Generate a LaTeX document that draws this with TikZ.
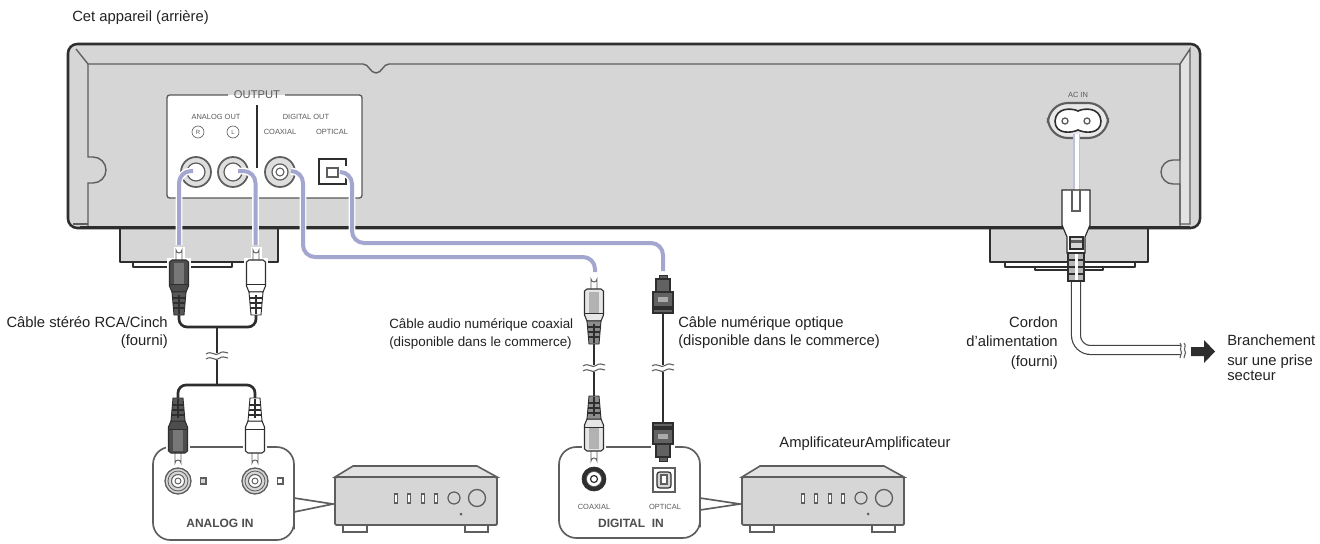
\documentclass[tikz,border=0pt]{standalone}
\usepackage{fontspec}
\setmainfont{Liberation Sans}
\definecolor{devgray}{HTML}{D6D6D6}
\definecolor{lineblk}{HTML}{2E2E2E}
\definecolor{midline}{HTML}{5E5E5E}
\definecolor{lav}{HTML}{A3A6CE}
\definecolor{txt}{HTML}{222222}
\definecolor{smalltxt}{HTML}{5A5A5A}
\tikzset{
 x=0.75pt,y=-0.75pt,
 label/.style={font=\fontsize{11.1pt}{13.5pt}\selectfont,text=txt,inner sep=0pt,align=left},
 tiny/.style={font=\fontsize{5.6pt}{6pt}\selectfont,text=smalltxt,inner sep=0pt},
 boxtitle/.style={font=\bfseries\fontsize{9pt}{10pt}\selectfont,text=lineblk!85,inner sep=0pt},
 outline/.style={draw=lineblk,line width=1.9pt,line join=round},
 thinline/.style={draw=midline,line width=1.05pt},
 wire/.style={draw=lineblk,line width=2pt,rounded corners=6pt},
 bluewire/.style={line width=3pt,draw=lav,rounded corners=9pt},
 bluehalo/.style={line width=5.2pt,draw=white,rounded corners=9pt},
 panel/.style={draw=lineblk!80,line width=1pt,fill=white},
 balloon/.style={draw=midline,line width=1.25pt,fill=white},
 ampline/.style={draw=midline,line width=1.2pt},
 pics/rca/.style n args={3}{code={
   \fill[white] (-5.5,-1) rectangle (5.5,12);
   \fill[white] (-12,10) rectangle (12,46);
   \draw[midline,fill=white,line width=.7pt] (-3,12) -- (-3,2) arc[start angle=180,end angle=0,radius=3] -- (3,12);
   \draw[lineblk,line width=.8pt,fill=#1] (-9.5,14) -- (-7,12) -- (7,12) -- (9.5,14) -- (9.5,38) -- (7,44) -- (-7,44) -- (-9.5,38) -- cycle;
   \draw[#3,fill=#3,line width=.6pt] (-4.5,15) rectangle (4.5,36);
   \draw[lineblk,line width=.6pt] (-9.5,36) -- (9.5,36);
   \draw[lineblk,line width=.7pt,fill=#2] (-7,44) -- (7,44) -- (5,67) -- (-5,67) -- cycle;
   \foreach \ry in {50,55,60}{\draw[lineblk,line width=1.3pt] (-6,\ry) -- (6,\ry);}
   \draw[lineblk,line width=.8pt] (0,47) -- (0,66);
 }},
 pics/optic/.style n args={2}{code={
   \fill[white] (-12,-1) rectangle (12,39);
   \draw[lineblk,line width=.7pt,fill=midline] (-4,5) -- (-4,0) -- (4,0) -- (4,5);
   \draw[lineblk,line width=.8pt,fill=#1] (-7,4) -- (7,4) -- (7,17) -- (-7,17) -- cycle;
   \draw[lineblk,line width=.8pt,fill=#1] (-10,17) rectangle (10,38);
   \fill[#2] (-5,22) rectangle (5,27);
   \fill[lineblk] (-10,31) rectangle (10,35);
 }},
 pics/breakv/.style={code={
   \fill[white] (-11,-3.5) rectangle (11,3.5);
   \draw[midline,line width=.8pt] (-11,-2) .. controls (-5,-6) and (-2,1) .. (2,-2.5) .. controls (5,-5) and (8,-4) .. (11,-3);
   \draw[midline,line width=.8pt] (-11,3) .. controls (-5,-1) and (-2,6) .. (2,2.5) .. controls (5,0) and (8,1) .. (11,2);
 }},
 pics/amp/.style={code={
   \draw[ampline,fill=devgray!70!white] (0,11) -- (18,0) -- (142,0) -- (162,11) -- cycle;
   \draw[ampline,fill=white] (8,59) rectangle (32,66);
   \draw[ampline,fill=white] (130,59) rectangle (153,66);
   \draw[ampline,fill=devgray,line width=1.4pt,rounded corners=1pt] (0,11) rectangle (162,59);
   \foreach \ax in {61,74,88,101}{\draw[draw=midline,fill=white,line width=.9pt] (\ax-1.8,28) rectangle (\ax+1.8,37);}
   \draw[midline,fill=devgray,line width=.9pt] (119,32) circle[radius=6];
   \draw[midline,fill=devgray,line width=1pt] (142,32) circle[radius=8.5];
   \fill[midline] (126,48) circle[radius=1.5];
 }},
 pics/jack/.style={code={
   \draw[midline,fill=devgray,line width=1pt] (0,0) circle[radius=13];
   \draw[midline,line width=.6pt] (0,0) circle[radius=10];
   \draw[midline,fill=white,line width=.8pt] (0,0) circle[radius=6.5];
   \draw[midline,line width=.7pt] (0,0) circle[radius=3];
 }},
 pics/bigjack/.style={code={
   \draw[midline,fill=devgray!80!white,line width=1.3pt] (0,0) circle[radius=15];
   \draw[midline,line width=.9pt,fill=white] (0,0) circle[radius=9];
 }}
}
\begin{document}
\begin{tikzpicture}
\useasboundingbox (0,0) rectangle (1320,543);
\fill[white] (0,0) rectangle (1320,543);

% feet
\draw[outline,line width=1.2pt,fill=white] (133,262) -- (133,267) -- (232,267) -- (232,262);
\draw[outline,line width=1.2pt,fill=white] (1005,262) -- (1005,267) -- (1135,267) -- (1135,262);
\draw[outline,line width=1.2pt] (1035,267) -- (1035,270) -- (1103,270) -- (1103,267);
\draw[outline,line width=1.3pt,fill=devgray] (120,226) -- (120,262) -- (278,262) -- (278,226);
\draw[outline,line width=1.3pt,fill=devgray] (990,226) -- (990,262) -- (1148,262) -- (1148,226);

% body
\draw[outline,fill=devgray,rounded corners=7pt] (68,44) rectangle (1200,228);
\draw[thinline,fill=devgray!70!white] (1180,64) -- (1190,49) -- (1190,224) -- (1180,224) -- cycle;
\draw[thinline] (76,49) -- (88,64) -- (363,64) .. controls (369,64) and (370,73) .. (376,73) .. controls (382,73) and (383,64) .. (389,64) -- (1180,64);
\draw[thinline] (88,64) -- (88,157) -- (93,157) arc[start angle=-90,end angle=90,radius=13] -- (88,183) -- (88,226);
\draw[thinline] (1180,64) -- (1180,160) -- (1173,160) arc[start angle=-90,end angle=-270,radius=12] -- (1180,184) -- (1180,226);
\draw[thinline] (73,224) -- (88,224);
\draw[lineblk,line width=1.9pt] (80,227) -- (1190,227);

% panel
\path[fill=white,rounded corners=2pt] (167,95) rectangle (362,198);
\draw[panel,fill=none,rounded corners=2pt] (228,95) -- (167,95) -- (167,198) -- (362,198) -- (362,95) -- (285,95);
\node[tiny,font=\fontsize{8.4pt}{9pt}\selectfont] (outputlbl) at (257,95) {OUTPUT};
\draw[lineblk,line width=1pt] (257,105) -- (257,168);
\node[tiny] (aout) at (216,117) {ANALOG OUT};
\node[tiny] (dout) at (306,117) {DIGITAL OUT};
\node[tiny,draw=smalltxt,circle,minimum size=9pt,inner sep=0pt,line width=.5pt,font=\fontsize{4.5pt}{5pt}\selectfont] (rlbl) at (198,132) {R};
\node[tiny,draw=smalltxt,circle,minimum size=9pt,inner sep=0pt,line width=.5pt,font=\fontsize{4.5pt}{5pt}\selectfont] (llbl) at (233,132) {L};
\node[tiny] (coaxlbl) at (280,132) {COAXIAL};
\node[tiny] (optlbl) at (332,132) {OPTICAL};
\pic at (196,172) {bigjack};
\pic at (233,172) {bigjack};
\draw[midline,fill=devgray!80!white,line width=1.3pt] (280,172) circle[radius=15];
\draw[midline,fill=white,line width=.9pt] (280,172) circle[radius=8];
\draw[midline,line width=.8pt] (280,172) circle[radius=4];
\draw[lineblk,line width=1.1pt] (346,166) -- (346,159) -- (319,159) -- (319,184) -- (346,184) -- (346,178);
\draw[midline,fill=white,line width=.9pt] (327,168) rectangle (338,177);

% AC inlet
\node[tiny] (aclbl) at (1078,95) {AC IN};
\draw[draw=midline,fill=devgray!55!white,line width=1.6pt,rounded corners=15pt] (1048,103) rectangle (1108,138);
\draw[draw=lineblk,fill=white,line width=1.2pt] (1078,111)
  .. controls (1072,108) and (1056,107) .. (1055,121)
  .. controls (1055,135) and (1072,133) .. (1078,130)
  .. controls (1084,133) and (1101,135) .. (1101,121)
  .. controls (1100,107) and (1084,108) .. (1078,111) -- cycle;
\draw[midline,line width=1pt] (1065,121) circle[radius=3];
\draw[midline,line width=1pt] (1087,121) circle[radius=3];

% power cord (behind the plug)
\coordinate (acin) at (1076.5,134);
\coordinate (acplug) at (1076.5,192);
\draw[lav!70!white,line width=5.4pt] (acin) -- (acplug);
\draw[white,line width=3pt] (acin) -- (acplug);
\coordinate (cordtop) at (1076,280);
\coordinate (cordbend) at (1076,350);
\coordinate (cordend) at (1181,350);
\draw[midline!70!black,line width=7.6pt,rounded corners=11pt] (cordtop) -- (cordbend) -- (cordend);
\draw[white,line width=5.8pt,rounded corners=11pt] (cordtop) -- (cordbend) -- (cordend);
\fill[white] (1181,342) rectangle (1187,358);
\draw[midline,line width=.8pt] (1180,343) .. controls (1183,346) and (1179,349) .. (1181,351) .. controls (1183,354) and (1179,355) .. (1180,358);
\draw[midline,line width=.8pt] (1184,343) .. controls (1187,346) and (1183,349) .. (1185,351) .. controls (1187,354) and (1183,355) .. (1184,358);
\draw[lineblk,fill=white,line width=.9pt] (1062,190) -- (1090,190) -- (1090,225) -- (1085,237) -- (1085,253) -- (1067,253) -- (1067,237) -- (1062,225) -- cycle;
\draw[midline,line width=.8pt] (1072,190) -- (1072,211) -- (1080,211) -- (1080,190);
\draw[lineblk,line width=.8pt,fill=devgray] (1070,237) rectangle (1083,249);
\fill[midline] (1071,240) rectangle (1082,243);
\draw[lineblk,line width=.8pt,fill=midline!45!white] (1068,253) rectangle (1084,281);
\foreach \ry in {260,267,274}{\draw[lineblk,line width=1.1pt] (1068,\ry) -- (1084,\ry);}
\fill[white] (1074.5,254) rectangle (1077.5,280);
\fill[lineblk] (1191,347) -- (1204,347) -- (1204,340) -- (1215,351.5) -- (1204,363) -- (1204,356) -- (1191,356) -- cycle;

% blue leads
\coordinate (rs) at (193,171); \coordinate (ls) at (238,171);
\coordinate (cs) at (291,171); \coordinate (os) at (341,172);
\coordinate (rp) at (179,245); \coordinate (lp) at (255.5,245);
\coordinate (cp) at (595,272); \coordinate (op) at (663,271);
\foreach \wirestyle in {bluehalo,bluewire}{
\draw[\wirestyle] (rs) -- (179,171) -- (rp);
\draw[\wirestyle] (ls) -- (255.5,171) -- (lp);
\draw[\wirestyle] (cs) -- (303,171) -- (303,257) -- (595,257) -- (cp);
\draw[\wirestyle] (os) -- (352,172) -- (352,243) -- (663,243) -- (op);
}

% analog cable
\coordinate (a1) at (179,312); \coordinate (a2) at (256,312);
\coordinate (am) at (217,327); \coordinate (am2) at (217,385);
\coordinate (a3) at (178,400); \coordinate (a4) at (255,400);
\draw[wire] (a1) -- (179,327) -- (256,327) -- (a2);
\draw[wire] (a3) -- (178,385) -- (255,385) -- (a4);
\draw[lineblk,line width=2pt] (am) -- (am2);
\pic at (217,356) {breakv};

% analog balloon
\draw[balloon] [rounded corners=13pt] (170,447) -- (153,447) -- (153,540) -- (294,540) -- (294,512) [sharp corners] -- (294,512) -- (333,504) -- (294,498) [rounded corners=13pt] -- (294,447) -- (170,447);
\pic at (178,481) {jack};
\pic at (255,481) {jack};
\draw[midline,fill=devgray,line width=.8pt] (200.5,478) rectangle (206,484);
\draw[midline,fill=white,line width=.8pt] (277.5,478) rectangle (283,484);
\node[boxtitle] (analogin) at (220,523) {ANALOG IN};

% RCA plugs
\pic at (179,248) {rca={lineblk!85}{lineblk!80}{lineblk!65}};
\pic at (256,248) {rca={white}{white}{white}};
\pic[yscale=-1] at (178,465) {rca={lineblk!85}{lineblk!80}{lineblk!65}};
\pic[yscale=-1] at (255,465) {rca={white}{white}{white}};

% digital cables
\coordinate (c1) at (594,340); \coordinate (c2) at (594,398);
\coordinate (o1) at (663,312); \coordinate (o2) at (663,425);
\draw[lineblk,line width=2pt] (c1) -- (c2);
\draw[lineblk,line width=2pt] (o1) -- (o2);
\pic at (594,368) {breakv};
\pic at (663,368) {breakv};

% digital balloon
\draw[balloon] [rounded corners=13pt] (580,447) -- (559,447) -- (559,538) -- (700,538) -- (700,510) [sharp corners] -- (700,510) -- (740,504) -- (700,498) [rounded corners=13pt] -- (700,447) -- (580,447);
\draw[lineblk,fill=lineblk,line width=.5pt] (594,479) circle[radius=12];
\draw[midline,fill=white,line width=.5pt] (594,479) circle[radius=7.5];
\draw[lineblk,line width=.9pt] (594,479) circle[radius=3.5];
\draw[midline,fill=white,line width=.9pt] (653,468) rectangle (675,492);
\draw[lineblk,fill=devgray,line width=.9pt,rounded corners=2pt] (657,472) rectangle (671,488);
\draw[midline,fill=white,line width=.8pt] (661,475) rectangle (667,484);
\node[tiny] (coaxin) at (594,507) {COAXIAL};
\node[tiny] (optin) at (665,507) {OPTICAL};
\node[boxtitle] (digitalin) at (631,523) {DIGITAL\hspace{5pt}IN};

% digital plugs
\pic at (594,277) {rca={devgray!60!white}{lineblk!55}{devgray!70!midline}};
\pic[yscale=-1] at (594,463) {rca={devgray!60!white}{lineblk!55}{devgray!70!midline}};
\pic at (663,275) {optic={lineblk!75}{lineblk!40}};
\pic[yscale=-1] at (663,461) {optic={lineblk!75}{lineblk!40}};

% amplifiers
\pic at (335,466) {amp};
\pic at (742,466) {amp};

% labels
\node[label,anchor=west] (title) at (72,18) {Cet appareil (arrière)};
\node[label,anchor=east,align=right] (rcalbl) at (168,333) {Câble stéréo RCA/Cinch\\(fourni)};
\node[label,anchor=west,font=\fontsize{10.05pt}{13.5pt}\selectfont] (coaxcable) at (389,334) {Câble audio numérique coaxial\\(disponible dans le commerce)};
\node[label,anchor=west] (optcable) at (678,333) {Câble numérique optique\\(disponible dans le commerce)};
\node[label,anchor=east,align=right,font=\fontsize{11.1pt}{14.6pt}\selectfont] (cordlbl) at (1058,343) {Cordon\\d’alimentation\\(fourni)};
\node[label,anchor=west,font=\fontsize{11.1pt}{15pt}\selectfont] (mains) at (1227,358) {Branchement\\sur une prise\\[-3.75pt]secteur};
\node[label] (ampli) at (865,444) {AmplificateurAmplificateur};
\end{tikzpicture}
\end{document}
